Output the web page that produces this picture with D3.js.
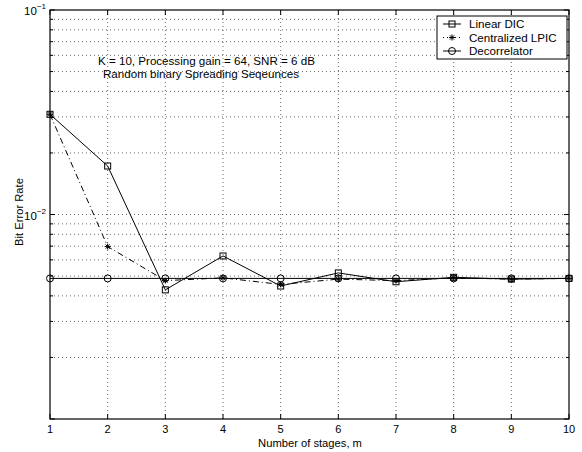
<!DOCTYPE html>
<html><head><meta charset="utf-8">
<script src="https://cdn.jsdelivr.net/npm/d3@7/dist/d3.min.js"></script>
<style>body{margin:0;background:#fff;} text{font-family:"Liberation Sans",Arial,Helvetica,sans-serif;}</style>
</head><body><svg id="c" width="582" height="452"></svg>
<script>
const stages = [1,2,3,4,5,6,7,8,9,10];
const linearDIC = [0.0309,0.01726,0.00428,0.00627,0.00447,0.00518,0.00469,0.00493,0.00483,0.00487];
const centralizedLPIC = [0.0309,0.00697,0.00475,0.00490,0.00455,0.00483,0.00475,0.00490,0.00483,0.00487];
const decorrelator = [0.00487,0.00487,0.00487,0.00487,0.00487,0.00487,0.00487,0.00487,0.00487,0.00487];
const xTicks = [1,2,3,4,5,6,7,8,9,10];
const yTickExps = [-1,-2];
const legendLabels = ["Linear DIC","Centralized LPIC","Decorrelator"];
const annotation = ["K = 10, Processing gain = 64, SNR = 6 dB","Random binary Spreading Seqeunces"];

const svg = d3.select("#c");
const L=50,R=569,T=10,B=419;
const x = d3.scaleLinear().domain([1,10]).range([L,R]);
const y = d3.scaleLog().domain([1e-3,1e-1]).range([B,T]);

// grid
const g = svg.append("g");
xTicks.filter(v=>v>1&&v<10).forEach(v=>{
  g.append("line").attr("x1",x(v)).attr("x2",x(v)).attr("y1",T).attr("y2",B)
   .attr("stroke","#444").attr("stroke-width",0.8).attr("stroke-dasharray","1,3");
});
const yAll = y.ticks();
yAll.filter(v=>v>1.0001e-3&&v<0.0999).forEach(v=>{
  g.append("line").attr("x1",L).attr("x2",R).attr("y1",y(v)).attr("y2",y(v))
   .attr("stroke","#444").attr("stroke-width",0.8).attr("stroke-dasharray","1,3");
});

// ticks
yAll.forEach(v=>{
  const major = Math.abs(Math.log10(v)-Math.round(Math.log10(v)))<1e-6;
  const len = major?5:3;
  svg.append("line").attr("x1",L).attr("x2",L+len).attr("y1",y(v)).attr("y2",y(v)).attr("stroke","#000");
  svg.append("line").attr("x1",R).attr("x2",R-len).attr("y1",y(v)).attr("y2",y(v)).attr("stroke","#000");
});
xTicks.forEach(v=>{
  svg.append("line").attr("x1",x(v)).attr("x2",x(v)).attr("y1",B).attr("y2",B-5).attr("stroke","#000");
  svg.append("line").attr("x1",x(v)).attr("x2",x(v)).attr("y1",T).attr("y2",T+5).attr("stroke","#000");
  svg.append("text").attr("x",x(v)).attr("y",B+14).attr("text-anchor","middle").attr("font-size",11).text(v);
});
yTickExps.forEach(e=>{
  const t = svg.append("text").attr("x",L-4).attr("y",y(Math.pow(10,e))+5).attr("text-anchor","end").attr("font-size",11.5);
  t.append("tspan").text("10");
  t.append("tspan").attr("dy",-6).attr("font-size",8).text("\u2212"+(-e));
});
// box
svg.append("rect").attr("x",L).attr("y",T).attr("width",R-L).attr("height",B-T)
  .attr("fill","none").attr("stroke","#000").attr("stroke-width",1.2);

// labels
svg.append("text").attr("x",310).attr("y",447).attr("text-anchor","middle").attr("font-size",11.2).text("Number of stages, m");
svg.append("text").attr("transform",`translate(23,212) rotate(-90)`).attr("text-anchor","middle").attr("font-size",11.2).text("Bit Error Rate");
svg.append("text").attr("x",98).attr("y",65).attr("font-size",11.6).text(annotation[0]);
svg.append("text").attr("x",103).attr("y",78).attr("font-size",11.6).text(annotation[1]);

// lines
const line = d3.line().x((d,i)=>x(stages[i])).y(d=>y(d));
const pl = svg.append("g");
pl.append("path").datum(decorrelator).attr("d",line).attr("fill","none").attr("stroke","#000").attr("stroke-width",1);
pl.append("path").datum(centralizedLPIC).attr("d",line).attr("fill","none").attr("stroke","#000").attr("stroke-width",1).attr("stroke-dasharray","6,3,1,3");
pl.append("path").datum(linearDIC).attr("d",line).attr("fill","none").attr("stroke","#000").attr("stroke-width",1);

function square(sel,cx,cy){sel.append("rect").attr("x",cx-3).attr("y",cy-3).attr("width",6).attr("height",6).attr("fill","none").attr("stroke","#000").attr("stroke-width",1);}
function circle(sel,cx,cy){sel.append("circle").attr("cx",cx).attr("cy",cy).attr("r",3.5).attr("fill","none").attr("stroke","#000").attr("stroke-width",1);}
function star(sel,cx,cy){
  const r=3;
  [[0,1],[1,0],[0.707,0.707],[0.707,-0.707]].forEach(([a,b])=>{
    sel.append("line").attr("x1",cx-a*r).attr("x2",cx+a*r).attr("y1",cy-b*r).attr("y2",cy+b*r).attr("stroke","#000").attr("stroke-width",1);
  });
}
decorrelator.forEach((v,i)=>circle(pl,x(stages[i]),y(v)));
centralizedLPIC.forEach((v,i)=>star(pl,x(stages[i]),y(v)));
linearDIC.forEach((v,i)=>square(pl,x(stages[i]),y(v)));

// legend
const lg = svg.append("g");
lg.append("rect").attr("x",437).attr("y",16).attr("width",130).attr("height",43).attr("fill","#fff").attr("stroke","#000").attr("stroke-width",1);
const ly=[24,37.5,51];
const mk=[square,star,circle];
legendLabels.forEach((lab,i)=>{
  const ln = lg.append("line").attr("x1",443).attr("x2",461).attr("y1",ly[i]).attr("y2",ly[i]).attr("stroke","#000");
  if(i===1) ln.attr("stroke-dasharray","1,3");
  mk[i](lg,452,ly[i]);
  lg.append("text").attr("x",469).attr("y",ly[i]+4).attr("font-size",11.6).text(lab);
});
</script></body></html>
